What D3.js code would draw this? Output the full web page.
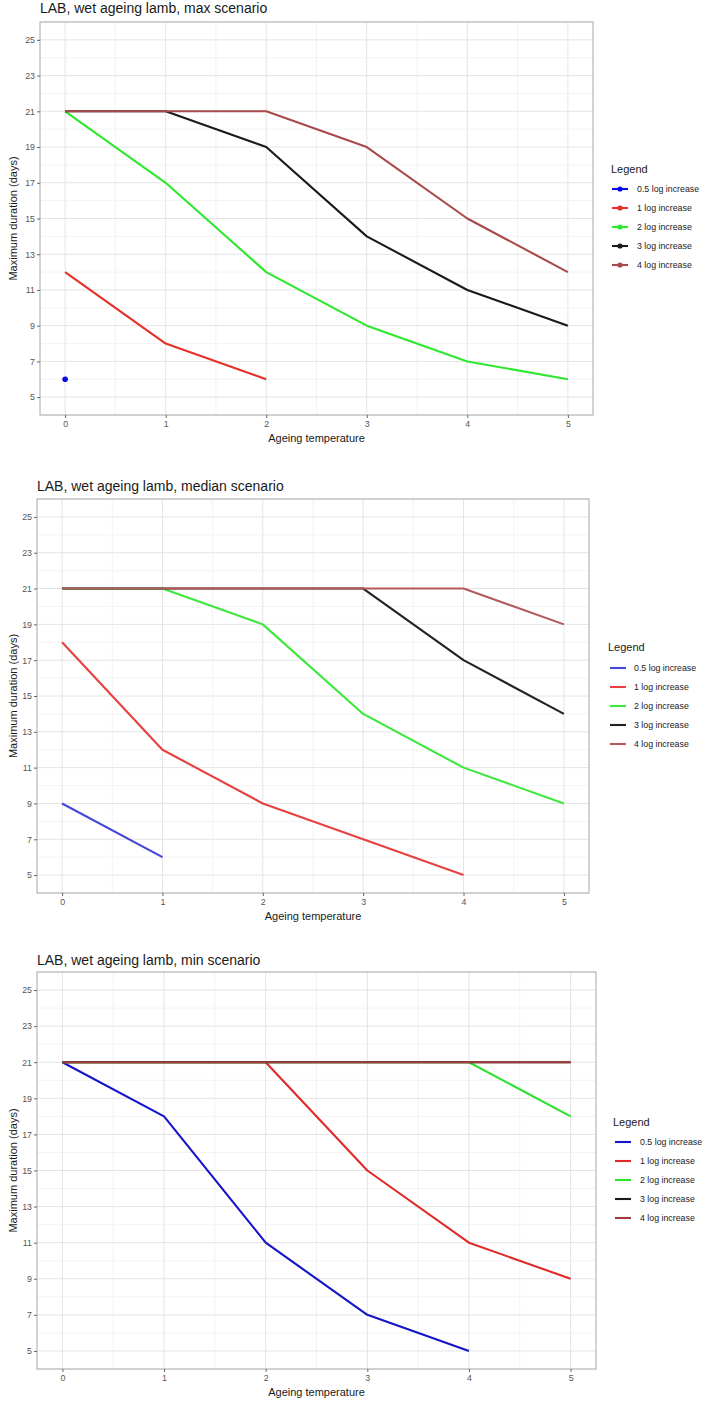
<!DOCTYPE html>
<html>
<head>
<meta charset="utf-8">
<script src="https://cdn.jsdelivr.net/npm/d3@7"></script>
<style>
  html, body { margin: 0; padding: 0; background: #fff; }
  svg { display: block; font-family: "Liberation Sans", Arial, sans-serif; }
</style>
</head>
<body>
<svg id="chart" width="709" height="1403"></svg>
<script>
// ---------------- data ----------------
const temps = [0, 1, 2, 3, 4, 5];
const xTicks = [0, 1, 2, 3, 4, 5];
const yTicks = [5, 7, 9, 11, 13, 15, 17, 19, 21, 23, 25];
const seriesNames = ["0.5 log increase", "1 log increase", "2 log increase", "3 log increase", "4 log increase"];
const panelTitles = [
  "LAB, wet ageing lamb, max scenario",
  "LAB, wet ageing lamb, median scenario",
  "LAB, wet ageing lamb, min scenario"
];
const xTitle = "Ageing temperature";
const yTitle = "Maximum duration (days)";
const legendTitle = "Legend";

// max scenario (null = no value)
const maxLog05 = [6, null, null, null, null, null];
const maxLog1  = [12, 8, 6, null, null, null];
const maxLog2  = [21, 17, 12, 9, 7, 6];
const maxLog3  = [21, 21, 19, 14, 11, 9];
const maxLog4  = [21, 21, 21, 19, 15, 12];

// median scenario
const medLog05 = [9, 6, null, null, null, null];
const medLog1  = [18, 12, 9, 7, 5, null];
const medLog2  = [21, 21, 19, 14, 11, 9];
const medLog3  = [21, 21, 21, 21, 17, 14];
const medLog4  = [21, 21, 21, 21, 21, 19];

// min scenario
const minLog05 = [21, 18, 11, 7, 5, null];
const minLog1  = [21, 21, 21, 15, 11, 9];
const minLog2  = [21, 21, 21, 21, 21, 18];
const minLog3  = [21, 21, 21, 21, 21, 21];
const minLog4  = [21, 21, 21, 21, 21, 21];

// ---------------- layout / style ----------------
const panels = [
  { title: panelTitles[0], series: [maxLog05, maxLog1, maxLog2, maxLog3, maxLog4],
    colors: ["#0a0ae6", "#e6302a", "#2ee82e", "#1a1a1a", "#a84a4a"],
    box: { left: 40, right: 593, top: 22, bottom: 415 }, titleY: 13, titleX: 40,
    legend: { x: 611, titleY: 169, y0: 189, dy: 19, keyX0: 612, keyX1: 628, textX: 637 }, points: true },
  { title: panelTitles[1], series: [medLog05, medLog1, medLog2, medLog3, medLog4],
    colors: ["#4646d8", "#e84040", "#3ce83c", "#222222", "#b05a5a"],
    box: { left: 37, right: 589, top: 499, bottom: 893 }, titleY: 491, titleX: 37,
    legend: { x: 608, titleY: 647, y0: 668, dy: 19, keyX0: 610, keyX1: 626, textX: 634 }, points: false },
  { title: panelTitles[2], series: [minLog05, minLog1, minLog2, minLog3, minLog4],
    colors: ["#1414c8", "#e02a2a", "#30e030", "#1a1a1a", "#a03c3c"],
    box: { left: 37, right: 596, top: 972, bottom: 1369 }, titleY: 965, titleX: 37,
    legend: { x: 613, titleY: 1122, y0: 1142, dy: 19, keyX0: 615, keyX1: 631, textX: 640 }, points: false }
];

const svg = d3.select("#chart");
svg.append("rect").attr("width", 709).attr("height", 1403).attr("fill", "#fff");

panels.forEach(p => {
  const b = p.box;
  const x = d3.scaleLinear().domain([-0.25, 5.25]).range([b.left, b.right]);
  const y = d3.scaleLinear().domain([4, 26]).range([b.bottom, b.top]);
  const g = svg.append("g");

  // minor grid
  const yMinor = d3.range(4, 26.01, 2);
  const xMinor = d3.range(0.5, 5, 1);
  g.selectAll(null).data(yMinor).enter().append("line")
    .attr("x1", b.left).attr("x2", b.right)
    .attr("y1", d => y(d)).attr("y2", d => y(d))
    .attr("stroke", "#f0f0f0").attr("stroke-width", 0.8);
  g.selectAll(null).data(xMinor).enter().append("line")
    .attr("y1", b.top).attr("y2", b.bottom)
    .attr("x1", d => x(d)).attr("x2", d => x(d))
    .attr("stroke", "#f0f0f0").attr("stroke-width", 0.8);
  // major grid
  g.selectAll(null).data(yTicks).enter().append("line")
    .attr("x1", b.left).attr("x2", b.right)
    .attr("y1", d => y(d)).attr("y2", d => y(d))
    .attr("stroke", "#e4e4e4").attr("stroke-width", 1);
  g.selectAll(null).data(xTicks).enter().append("line")
    .attr("y1", b.top).attr("y2", b.bottom)
    .attr("x1", d => x(d)).attr("x2", d => x(d))
    .attr("stroke", "#e4e4e4").attr("stroke-width", 1);

  // series lines
  const line = d3.line()
    .defined(d => d.v !== null)
    .x(d => x(d.t)).y(d => y(d.v));
  p.series.forEach((vals, i) => {
    const pts = temps.map((t, k) => ({ t, v: vals[k] }));
    const valid = pts.filter(d => d.v !== null);
    if (valid.length > 1) {
      g.append("path").datum(pts)
        .attr("d", line)
        .attr("fill", "none")
        .attr("stroke", p.colors[i])
        .attr("stroke-width", 2.1)
        .attr("stroke-linejoin", "round");
    } else if (valid.length === 1) {
      g.append("circle")
        .attr("cx", x(valid[0].t)).attr("cy", y(valid[0].v))
        .attr("r", 2.8).attr("fill", p.colors[i]);
    }
  });

  // panel border
  g.append("rect")
    .attr("x", b.left).attr("y", b.top)
    .attr("width", b.right - b.left).attr("height", b.bottom - b.top)
    .attr("fill", "none").attr("stroke", "#a8a8a8").attr("stroke-width", 1);

  // axes
  const yAxis = d3.axisLeft(y).tickValues(yTicks).tickSize(3).tickPadding(2).tickFormat(d3.format("d"));
  const xAxis = d3.axisBottom(x).tickValues(xTicks).tickSize(3).tickPadding(3).tickFormat(d3.format("d"));
  const ya = g.append("g").attr("transform", `translate(${b.left},0)`).call(yAxis);
  const xa = g.append("g").attr("transform", `translate(0,${b.bottom})`).call(xAxis);
  [ya, xa].forEach(a => {
    a.select(".domain").remove();
    a.selectAll(".tick line").attr("stroke", "#666");
    a.selectAll(".tick text").attr("fill", "#555").style("font-size", "8.8px")
      .style("font-family", "'Liberation Sans', Arial, sans-serif");
  });

  // titles
  g.append("text").attr("x", p.titleX).attr("y", p.titleY)
    .attr("fill", "#1a1a1a").style("font-size", "14px").text(p.title);
  g.append("text").attr("x", (b.left + b.right) / 2).attr("y", b.bottom + 27)
    .attr("text-anchor", "middle").attr("fill", "#1a1a1a").style("font-size", "11px").text(xTitle);
  g.append("text")
    .attr("transform", `translate(17,${(b.top + b.bottom) / 2}) rotate(-90)`)
    .attr("text-anchor", "middle").attr("fill", "#1a1a1a").style("font-size", "11px").text(yTitle);

  // legend
  const L = p.legend;
  g.append("text").attr("x", L.x).attr("y", L.titleY + 4)
    .attr("fill", "#1a1a1a").style("font-size", "11px").text(legendTitle);
  seriesNames.forEach((name, i) => {
    const yy = L.y0 + i * L.dy;
    g.append("line").attr("x1", L.keyX0).attr("x2", L.keyX1)
      .attr("y1", yy).attr("y2", yy)
      .attr("stroke", p.colors[i]).attr("stroke-width", 2.1);
    if (p.points) {
      g.append("circle").attr("cx", (L.keyX0 + L.keyX1) / 2).attr("cy", yy)
        .attr("r", 2.6).attr("fill", p.colors[i]);
    }
    g.append("text").attr("x", L.textX).attr("y", yy + 3)
      .attr("fill", "#1a1a1a").style("font-size", "8.8px").text(name);
  });
});
</script>
</body>
</html>
